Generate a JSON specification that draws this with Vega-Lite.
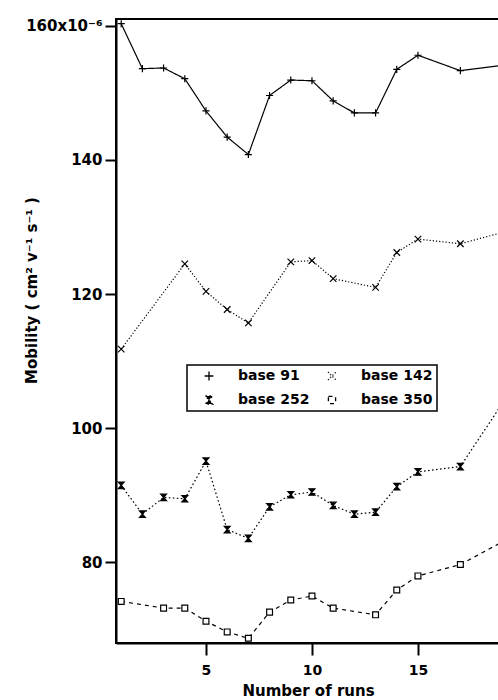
{
  "$schema": "https://vega.github.io/schema/vega-lite/v6.json",
  "width": 384,
  "height": 624,
  "autosize": "none",
  "padding": {"left": 116, "top": 19, "right": 0, "bottom": 57},
  "background": "white",
  "config": {
    "font": "DejaVu Sans",
    "view": {"stroke": "black", "strokeWidth": 2},
    "legend": {"strokeColor": "black", "strokeWidth": 1.5}
  },
  "data": {
    "values": [
      {"run": 1, "mobility": 160.3, "series": "base 91"},
      {"run": 2, "mobility": 153.6, "series": "base 91"},
      {"run": 3, "mobility": 153.7, "series": "base 91"},
      {"run": 4, "mobility": 152.1, "series": "base 91"},
      {"run": 5, "mobility": 147.3, "series": "base 91"},
      {"run": 6, "mobility": 143.4, "series": "base 91"},
      {"run": 7, "mobility": 140.8, "series": "base 91"},
      {"run": 8, "mobility": 149.6, "series": "base 91"},
      {"run": 9, "mobility": 151.9, "series": "base 91"},
      {"run": 10, "mobility": 151.8, "series": "base 91"},
      {"run": 11, "mobility": 148.8, "series": "base 91"},
      {"run": 12, "mobility": 147.0, "series": "base 91"},
      {"run": 13, "mobility": 147.0, "series": "base 91"},
      {"run": 14, "mobility": 153.5, "series": "base 91"},
      {"run": 15, "mobility": 155.6, "series": "base 91"},
      {"run": 17, "mobility": 153.3, "series": "base 91"},
      {"run": 19, "mobility": 154.1, "series": "base 91"},
      {"run": 1, "mobility": 111.8, "series": "base 142"},
      {"run": 4, "mobility": 124.5, "series": "base 142"},
      {"run": 5, "mobility": 120.4, "series": "base 142"},
      {"run": 6, "mobility": 117.7, "series": "base 142"},
      {"run": 7, "mobility": 115.7, "series": "base 142"},
      {"run": 9, "mobility": 124.8, "series": "base 142"},
      {"run": 10, "mobility": 125.0, "series": "base 142"},
      {"run": 11, "mobility": 122.3, "series": "base 142"},
      {"run": 13, "mobility": 121.0, "series": "base 142"},
      {"run": 14, "mobility": 126.2, "series": "base 142"},
      {"run": 15, "mobility": 128.2, "series": "base 142"},
      {"run": 17, "mobility": 127.5, "series": "base 142"},
      {"run": 19, "mobility": 129.2, "series": "base 142"},
      {"run": 1, "mobility": 91.5, "series": "base 252"},
      {"run": 2, "mobility": 87.2, "series": "base 252"},
      {"run": 3, "mobility": 89.7, "series": "base 252"},
      {"run": 4, "mobility": 89.5, "series": "base 252"},
      {"run": 5, "mobility": 95.1, "series": "base 252"},
      {"run": 6, "mobility": 84.9, "series": "base 252"},
      {"run": 7, "mobility": 83.6, "series": "base 252"},
      {"run": 8, "mobility": 88.3, "series": "base 252"},
      {"run": 9, "mobility": 90.1, "series": "base 252"},
      {"run": 10, "mobility": 90.5, "series": "base 252"},
      {"run": 11, "mobility": 88.5, "series": "base 252"},
      {"run": 12, "mobility": 87.2, "series": "base 252"},
      {"run": 13, "mobility": 87.5, "series": "base 252"},
      {"run": 14, "mobility": 91.3, "series": "base 252"},
      {"run": 15, "mobility": 93.5, "series": "base 252"},
      {"run": 17, "mobility": 94.3, "series": "base 252"},
      {"run": 19, "mobility": 103.8, "series": "base 252"},
      {"run": 1, "mobility": 74.2, "series": "base 350"},
      {"run": 3, "mobility": 73.2, "series": "base 350"},
      {"run": 4, "mobility": 73.2, "series": "base 350"},
      {"run": 5, "mobility": 71.25, "series": "base 350"},
      {"run": 6, "mobility": 69.65, "series": "base 350"},
      {"run": 7, "mobility": 68.7, "series": "base 350"},
      {"run": 8, "mobility": 72.6, "series": "base 350"},
      {"run": 9, "mobility": 74.4, "series": "base 350"},
      {"run": 10, "mobility": 75.0, "series": "base 350"},
      {"run": 11, "mobility": 73.2, "series": "base 350"},
      {"run": 13, "mobility": 72.2, "series": "base 350"},
      {"run": 14, "mobility": 75.9, "series": "base 350"},
      {"run": 15, "mobility": 78.0, "series": "base 350"},
      {"run": 17, "mobility": 79.7, "series": "base 350"},
      {"run": 19, "mobility": 83.1, "series": "base 350"}
    ]
  },
  "encoding": {
    "x": {
      "field": "run",
      "type": "quantitative",
      "scale": {"domain": [0.755, 18.87], "nice": false, "zero": false},
      "axis": {
        "values": [5, 10, 15],
        "grid": false,
        "tickSize": 12,
        "tickWidth": 2,
        "tickColor": "black",
        "domainColor": "black",
        "domainWidth": 2,
        "labelFontSize": 14,
        "labelFontWeight": "bold",
        "labelColor": "black",
        "labelPadding": 8,
        "title": "Number of runs",
        "titleFontSize": 15,
        "titleFontWeight": "bold",
        "titleColor": "black",
        "titlePadding": 6
      }
    },
    "y": {
      "field": "mobility",
      "type": "quantitative",
      "scale": {"domain": [68, 161], "nice": false, "zero": false},
      "axis": {
        "values": [80, 100, 120, 140, 160],
        "labelExpr": "datum.value == 160 ? '160x10⁻⁶' : datum.label",
        "grid": false,
        "tickSize": 11,
        "tickWidth": 2,
        "tickColor": "black",
        "domainColor": "black",
        "domainWidth": 2,
        "labelFontSize": 15,
        "labelFontWeight": "bold",
        "labelColor": "black",
        "labelPadding": 3,
        "title": "Mobility ( cm² v⁻¹ s⁻¹ )",
        "titleFontSize": 15,
        "titleFontWeight": "bold",
        "titleColor": "black",
        "titleAngle": -90,
        "titleX": -85,
        "titleY": 271,
        "titleAlign": "center",
        "titleBaseline": "middle"
      }
    }
  },
  "layer": [
    {
      "mark": {"type": "line", "color": "black", "strokeWidth": 1.2, "clip": true},
      "encoding": {
        "strokeDash": {
          "field": "series",
          "type": "nominal",
          "scale": {
            "domain": ["base 91", "base 142", "base 252", "base 350"],
            "range": [[1, 0], [1.2, 2], [1.6, 2.4], [4, 4]]
          }
        }
      }
    },
    {
      "mark": {"type": "point", "stroke": "black", "strokeWidth": 1.2, "size": 42, "opacity": 1, "clip": true},
      "encoding": {
        "fill": {
          "field": "series",
          "type": "nominal",
          "scale": {
            "domain": ["base 91", "base 142", "base 252", "base 350"],
            "range": ["transparent", "transparent", "black", "white"]
          }
        },
        "shape": {
          "field": "series",
          "type": "nominal",
          "scale": {
            "domain": ["base 91", "base 142", "base 252", "base 350"],
            "range": [
              "M-1.1,0L1.1,0M0,-1.1L0,1.1",
              "M-1,-1L1,1M-1,1L1,-1",
              "M-0.9,-1L0.9,-1L-0.9,1L0.9,1Z",
              "M-0.9,-0.9L0.9,-0.9L0.9,0.9L-0.9,0.9Z"
            ]
          },
          "legend": {
            "orient": "none",
            "legendX": 71,
            "legendY": 346,
            "direction": "horizontal",
            "columns": 2,
            "title": null,
            "padding": 4,
            "fillColor": "white",
            "symbolSize": 64,
            "symbolOffset": 11,
            "labelOffset": 22,
            "columnPadding": 4,
            "rowPadding": 10,
            "labelFontSize": 14,
            "labelFontWeight": "bold",
            "labelColor": "black",
            "symbolStrokeColor": "black",
            "symbolStrokeWidth": 1.3
          }
        }
      }
    }
  ]
}
